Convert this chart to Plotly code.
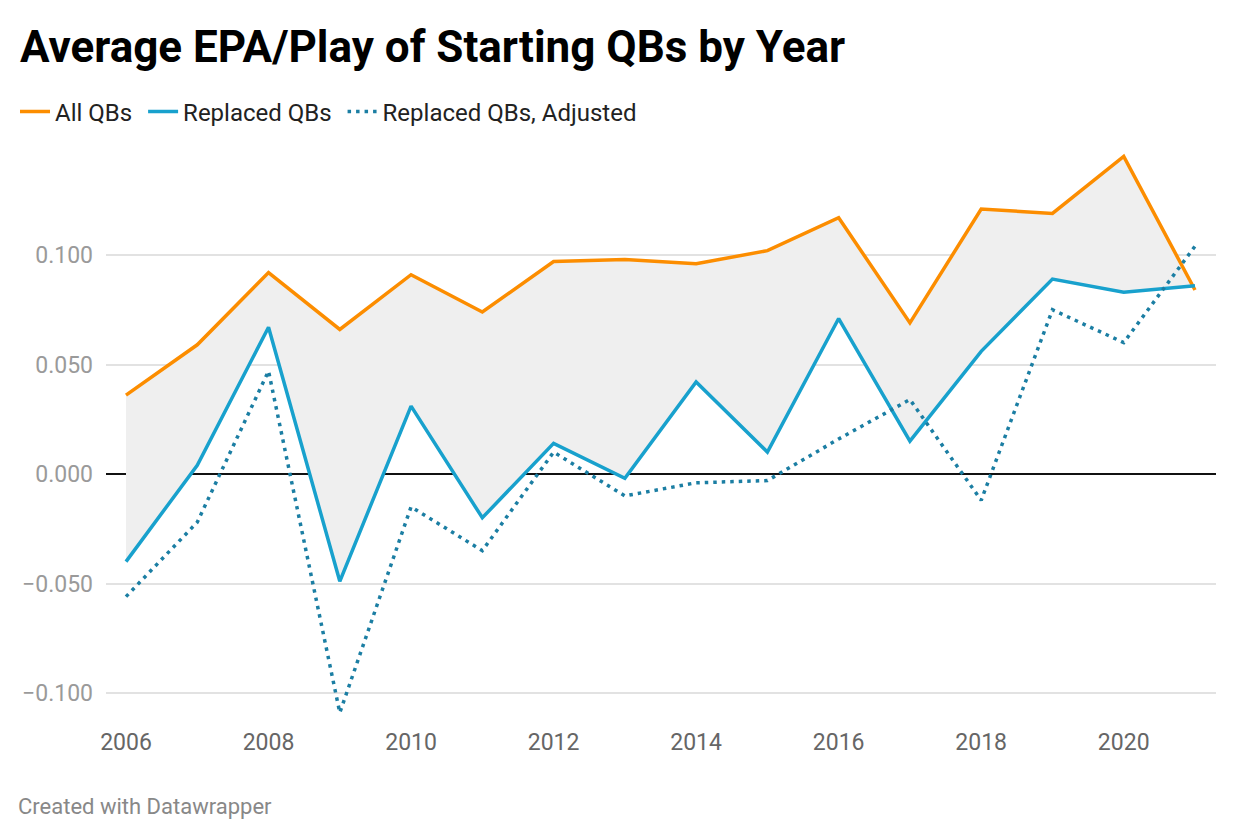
import plotly.graph_objects as go

years = list(range(2006, 2022))
all_qbs = [0.036, 0.059, 0.092, 0.066, 0.091, 0.074, 0.097, 0.098, 0.096, 0.102, 0.117, 0.069, 0.121, 0.119, 0.145, 0.084]
replaced = [-0.040, 0.004, 0.067, -0.049, 0.031, -0.020, 0.014, -0.002, 0.042, 0.010, 0.071, 0.015, 0.056, 0.089, 0.083, 0.086]
adjusted = [-0.056, -0.022, 0.047, -0.109, -0.015, -0.035, 0.010, -0.010, -0.004, -0.003, 0.016, 0.034, -0.012, 0.075, 0.060, 0.104]

y_ticks = [-0.1, -0.05, 0.0, 0.05, 0.1]
x_ticks = [2006, 2008, 2010, 2012, 2014, 2016, 2018, 2020]

ORANGE = "#fc8d00"
BLUE = "#18a1cd"
DOT = "#1b7ea3"
FONT = "Roboto"

# page body has an 8px margin, so layout is expressed in figure coords
L, R, T, B = 98, 32, 138, 122
PW, PH = 1240 - L - R, 840 - T - B


def px(xf):
    return (xf - L) / PW


def py(yf):
    return (840 - B - yf) / PH


NB = "\u00a0"

fig = go.Figure()
# fill between (helper traces)
fig.add_trace(go.Scatter(x=years, y=replaced, mode="lines", line=dict(width=0, color=BLUE),
                         showlegend=False, hoverinfo="skip"))
fig.add_trace(go.Scatter(x=years, y=all_qbs, mode="lines", line=dict(width=0, color=ORANGE),
                         fill="tonexty", fillcolor="#efefef", showlegend=False, hoverinfo="skip"))
# visible lines
fig.add_trace(go.Scatter(x=years, y=all_qbs, mode="lines", name="All QBs" + NB,
                         line=dict(color=ORANGE, width=3.5)))
fig.add_trace(go.Scatter(x=years, y=replaced, mode="lines", name="Replaced QBs" + NB,
                         line=dict(color=BLUE, width=3.5)))
fig.add_trace(go.Scatter(x=years, y=adjusted, mode="lines", name="Replaced QBs, Adjusted",
                         line=dict(color=DOT, width=3.5, dash="3.5px,5px")))

fig.update_layout(
    width=1240, height=840,
    paper_bgcolor="white", plot_bgcolor="white",
    font=dict(family=FONT, color="#333333"),
    margin=dict(l=L, r=R, t=T, b=B, autoexpand=False),
    title=dict(text="<b>Average EPA/Play of Starting QBs by Year</b>", x=12/1240, xanchor="left",
               y=1 - 39/840, yanchor="middle", font=dict(family=FONT, size=44, color="#000000")),
    legend=dict(orientation="h", traceorder="normal", x=px(7), xanchor="left", y=py(104), yanchor="middle",
                font=dict(family=FONT, size=24, color="#222222"), bgcolor="rgba(0,0,0,0)",
                itemwidth=30),
    showlegend=True,
    xaxis=dict(range=[2005.7194, 2021.2947], tickvals=x_ticks, ticktext=[str(v) for v in x_ticks],
               showgrid=False, zeroline=False, showline=False, ticks="",
               tickfont=dict(family=FONT, size=23, color="#666666")),
    yaxis=dict(range=[-0.11507, 0.14977], tickvals=y_ticks, tickformat=".3f",
               showgrid=True, gridcolor="#e2e2e2", gridwidth=1.5,
               zeroline=True, zerolinecolor="#111111", zerolinewidth=2,
               showline=False, ticks="", ticklabelstandoff=12,
               tickfont=dict(family=FONT, size=23, color="#9a9a9a")),
)
fig.add_annotation(text="Created with Datawrapper", x=px(8), y=py(798), xref="paper", yref="paper",
                   xanchor="left", yanchor="middle", showarrow=False,
                   font=dict(family=FONT, size=22, color="#888888"))

fig.write_html("out.html")
